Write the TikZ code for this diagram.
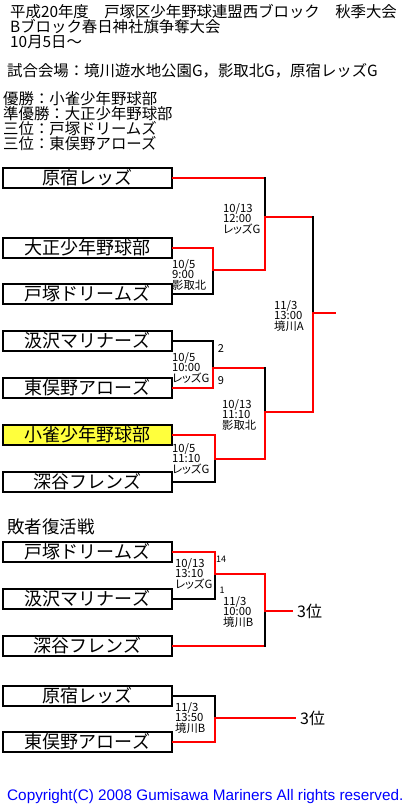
\documentclass[tikz,border=0pt]{standalone}
\usepackage{fontspec}
\setmainfont{Noto Sans CJK JP}
\newfontfamily\infofont[RawFeature=+palt]{Noto Sans CJK JP}
\newfontfamily\copyfont{Liberation Sans}
\definecolor{champyellow}{RGB}{255,255,60}
\definecolor{copyblue}{RGB}{0,0,255}

\begin{document}
\begin{tikzpicture}[x=1pt,y=-1pt,
  team/.style={draw,line width=2pt,fill=white,minimum width=169pt,minimum height=20pt,
    inner sep=0,font=\fontsize{18}{18}\selectfont},
  champ/.style={team,fill=champyellow},
  info/.style={anchor=north west,align=left,inner sep=0,font=\infofont\fontsize{11.3}{10.5}\selectfont},
  score/.style={inner sep=0,font=\fontsize{11}{11}\selectfont},
  tiny/.style={inner sep=0,font=\fontsize{9}{9}\selectfont},
  head/.style={anchor=west,inner sep=0,font=\fontsize{15.4}{15.4}\selectfont},
  place/.style={anchor=west,inner sep=0,font=\fontsize{16}{16}\selectfont},
  win/.style={red,line width=1.4pt,line cap=rect},
  lose/.style={black,line width=1.4pt,line cap=rect}]
\useasboundingbox (0,0) rectangle (411,808);
% ---------- header ----------
\node[head] (title1) at (10,12) {平成20年度　戸塚区少年野球連盟西ブロック　秋季大会};
\node[head] (title2) at (10,27) {Bブロック春日神社旗争奪大会};
\node[head] (title3) at (10,42) {10月5日～};
\node[head] (venue) at (7,71) {試合会場：境川遊水地公園G，影取北G，原宿レッズG};
\node[head] (res1) at (3,99) {優勝：小雀少年野球部};
\node[head] (res2) at (3,114) {準優勝：大正少年野球部};
\node[head] (res3) at (3,129) {三位：戸塚ドリームズ};
\node[head] (res4) at (3,144) {三位：東俣野アローズ};
% ---------- main bracket ----------
\node[team] (harajuku) at (87.5,178) {原宿レッズ};
\node[team] (taisho) at (87.5,248) {大正少年野球部};
\node[team] (totsuka) at (87.5,294) {戸塚ドリームズ};
\node[team] (kumisawa) at (87.5,341) {汲沢マリナーズ};
\node[team] (higashi) at (87.5,388) {東俣野アローズ};
\node[champ] (kosuzume) at (87.5,435) {小雀少年野球部};
\node[team] (fukaya) at (87.5,482) {深谷フレンズ};
\coordinate (m1) at (213,270);
\coordinate (m2) at (265,217);
\coordinate (m3) at (213,368);
\coordinate (m4) at (265,412);
\coordinate (m5) at (215,459);
\coordinate (fin) at (313,313);
\coordinate (finout) at (335,313);
\draw[win] (harajuku.east) -- (harajuku.east -| m2);
\draw[lose] (harajuku.east -| m2) -- (m2);
\draw[win] (taisho.east) -| (m1);
\draw[lose] (totsuka.east) -| (m1);
\draw[win] (m1) -| (m2);
\draw[win] (m2) -- (m2 -| fin);
\draw[lose] (m2 -| fin) -- (fin);
\draw[lose] (kumisawa.east) -| (m3);
\draw[win] (higashi.east) -| (m3);
\draw[win] (m3) -- (m3 -| m4);
\draw[lose] (m3 -| m4) -- (m4);
\draw[win] (kosuzume.east) -| (m5);
\draw[lose] (fukaya.east) -| (m5);
\draw[win] (m5) -| (m4);
\draw[win] (m4) -| (fin);
\draw[win] (fin) -- (finout);
\node[info] (i1) at (172,259) {10/5\\9:00\\影取北};
\node[info] (i2) at (223,203) {10/13\\12:00\\レッズG};
\node[info] (ifin) at (274,300) {11/3\\13:00\\境川A};
\node[info] (i3) at (172,352) {10/5\\10:00\\レッズG};
\node[info] (i4) at (222,399) {10/13\\11:10\\影取北};
\node[info] (i5) at (172,443) {10/5\\11:10\\レッズG};
\node[score] (s3a) at (221,349) {2};
\node[score] (s3b) at (221,381) {9};
% ---------- repechage ----------
\node[head,font=\fontsize{17.5}{17.5}\selectfont] (repech) at (7,527) {敗者復活戦};
\node[team] (totsuka2) at (87.5,552) {戸塚ドリームズ};
\node[team] (kumisawa2) at (87.5,599) {汲沢マリナーズ};
\node[team] (fukaya2) at (87.5,646) {深谷フレンズ};
\coordinate (r1) at (215,574);
\coordinate (r2) at (265,611);
\coordinate (r2out) at (292,611);
\draw[win] (totsuka2.east) -| (r1);
\draw[lose] (kumisawa2.east) -| (r1);
\draw[win] (r1) -| (r2);
\draw[win] (fukaya2.east) -- (fukaya2.east -| r2);
\draw[lose] (fukaya2.east -| r2) -- (r2);
\draw[win] (r2) -- (r2out);
\node[place] (third1) at (297,611) {3位};
\node[info] (j1) at (175,558) {10/13\\13:10\\レッズG};
\node[info] (j2) at (223,596) {11/3\\10:00\\境川B};
\node[tiny] (t1a) at (221,559) {14};
\node[tiny] (t1b) at (222,590) {1};
% ---------- third place ----------
\node[team] (harajuku2) at (87.5,696) {原宿レッズ};
\node[team] (higashi2) at (87.5,742) {東俣野アローズ};
\coordinate (r3) at (215,718);
\coordinate (r3out) at (295,718);
\draw[lose] (harajuku2.east) -| (r3);
\draw[win] (higashi2.east) -| (r3);
\draw[win] (r3) -- (r3out);
\node[place] (third2) at (300,718) {3位};
\node[info] (j3) at (175,702) {11/3\\13:50\\境川B};
% ---------- footer ----------
\node[anchor=west,inner sep=0,text=copyblue,font=\copyfont\fontsize{15.3}{15.3}\selectfont]
  (copy) at (7,797) {Copyright(C) 2008 Gumisawa Mariners All rights reserved.};
\end{tikzpicture}
\end{document}
